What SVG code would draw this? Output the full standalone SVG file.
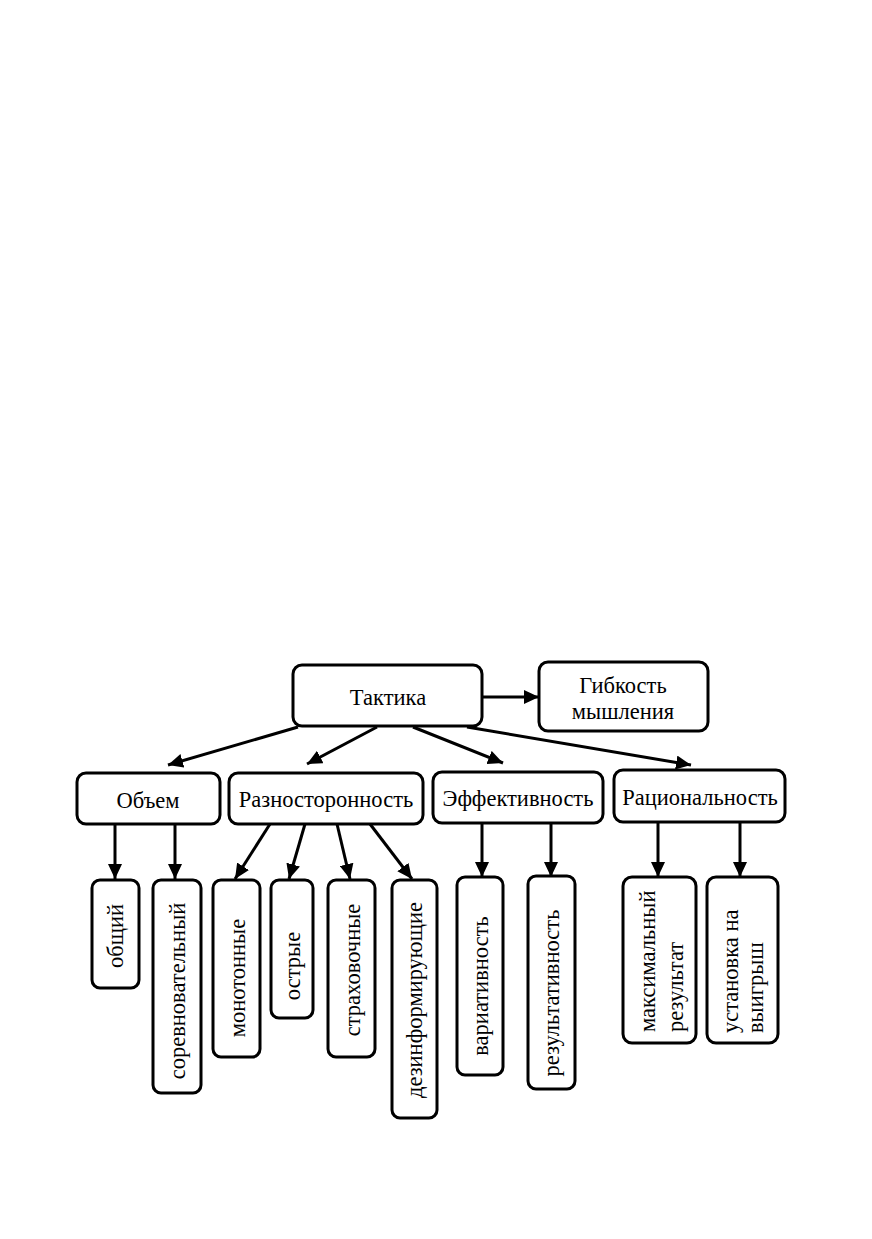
<svg xmlns="http://www.w3.org/2000/svg" width="872" height="1239" viewBox="0 0 872 1239">
<style>
.box{fill:#fff;stroke:#000;stroke-width:3}
.t{font-family:"Liberation Serif","Times New Roman",serif;font-size:22.5px;fill:#000;text-anchor:middle;dominant-baseline:central}
.v{font-family:"Liberation Serif","Times New Roman",serif;font-size:22.5px;fill:#000;dominant-baseline:central}
.c{stroke:#000;stroke-width:3;fill:none;marker-end:url(#ah)}
</style>
<defs>
<marker id="ah" markerUnits="userSpaceOnUse" markerWidth="16" markerHeight="14" refX="15" refY="7" orient="auto">
<path d="M0,0 L15,7 L0,14 z" fill="#000"/>
</marker>
</defs>
<rect width="872" height="1239" fill="#fff"/>
<g id="connectors">
<line class="c" x1="482" y1="697" x2="539" y2="697"/>
<line class="c" x1="298" y1="727" x2="168" y2="765"/>
<line class="c" x1="377" y1="727" x2="307" y2="764"/>
<line class="c" x1="413" y1="727" x2="503" y2="763"/>
<line class="c" x1="467" y1="727" x2="691" y2="765"/>
<line class="c" x1="115" y1="824" x2="115" y2="879"/>
<line class="c" x1="175" y1="824" x2="175" y2="879"/>
<line class="c" x1="270" y1="824" x2="235" y2="879"/>
<line class="c" x1="305" y1="824" x2="289" y2="879"/>
<line class="c" x1="337" y1="824" x2="350" y2="879"/>
<line class="c" x1="370" y1="824" x2="412" y2="879"/>
<line class="c" x1="482" y1="823" x2="482" y2="877"/>
<line class="c" x1="551" y1="823" x2="551" y2="877"/>
<line class="c" x1="658" y1="822" x2="658" y2="877"/>
<line class="c" x1="740" y1="822" x2="740" y2="877"/>
</g>
<g id="taktika"><rect class="box" x="293" y="665" width="189" height="61" rx="9"/><text class="t" x="388" y="697">Тактика</text></g>
<g id="gibkost"><rect class="box" x="539" y="662" width="169" height="69" rx="9"/><text class="t" x="623" y="685">Гибкость</text><text class="t" x="623" y="711">мышления</text></g>
<g id="obem"><rect class="box" x="77" y="773" width="143" height="51" rx="9"/><text class="t" x="148" y="800">Объем</text></g>
<g id="raznost"><rect class="box" x="229" y="773" width="194" height="51" rx="9"/><text class="t" x="326" y="799">Разносторонность</text></g>
<g id="effekt"><rect class="box" x="433" y="772" width="170" height="51" rx="9"/><text class="t" x="518" y="798">Эффективность</text></g>
<g id="racion"><rect class="box" x="614" y="770" width="171" height="52" rx="9"/><text class="t" x="700" y="797">Рациональность</text></g>
<g id="obshiy"><rect class="box" x="92" y="880" width="47" height="108" rx="8"/><text class="t" transform="translate(115,936) rotate(-90)">общий</text></g>
<g id="sorevn"><rect class="box" x="153" y="880" width="48" height="213" rx="8"/><text class="t" transform="translate(177,991) rotate(-90)">соревновательный</text></g>
<g id="monoton"><rect class="box" x="213" y="880" width="47" height="177" rx="8"/><text class="t" transform="translate(237,978) rotate(-90)">монотонные</text></g>
<g id="ostrye"><rect class="box" x="271" y="880" width="42" height="138" rx="8"/><text class="t" transform="translate(292,966) rotate(-90)">острые</text></g>
<g id="strah"><rect class="box" x="328" y="880" width="47" height="177" rx="8"/><text class="t" transform="translate(352,970) rotate(-90)">страховочные</text></g>
<g id="dezinf"><rect class="box" x="392" y="880" width="45" height="238" rx="8"/><text class="t" transform="translate(414,1000) rotate(-90)">дезинформирующие</text></g>
<g id="variat"><rect class="box" x="457" y="877" width="46" height="198" rx="8"/><text class="t" transform="translate(480,986) rotate(-90)">вариативность</text></g>
<g id="rezult"><rect class="box" x="528" y="876" width="47" height="213" rx="8"/><text class="t" transform="translate(551,993) rotate(-90)">результативность</text></g>
<g id="maks"><rect class="box" x="623" y="877" width="73" height="166" rx="9"/><text class="v" transform="translate(647,1032) rotate(-90)">максимальный</text><text class="v" transform="translate(675,1032) rotate(-90)">результат</text></g>
<g id="ustanovka"><rect class="box" x="707" y="877" width="71" height="166" rx="9"/><text class="v" transform="translate(730,1033) rotate(-90)">установка на</text><text class="v" transform="translate(755,1033) rotate(-90)">выигрыш</text></g>
</svg>
